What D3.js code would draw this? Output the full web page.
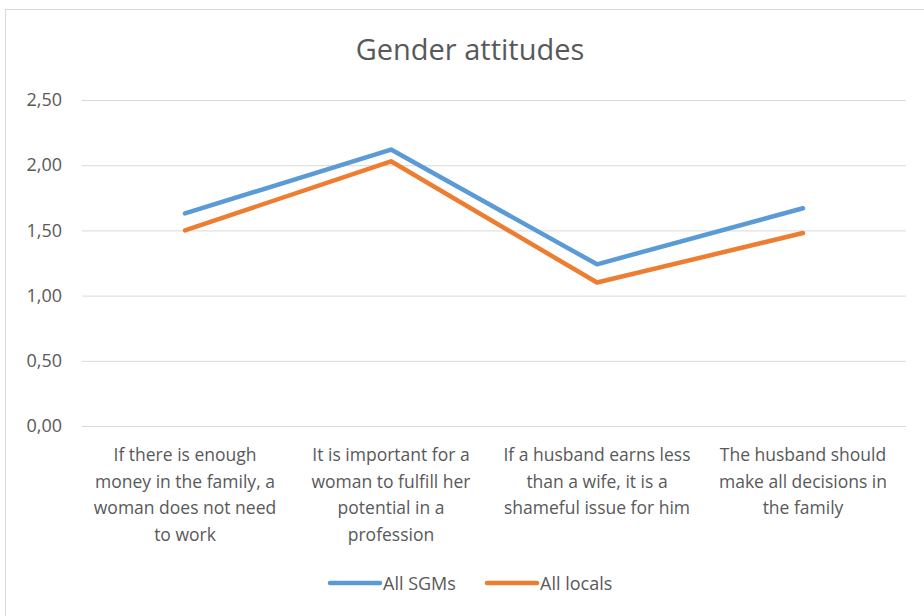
<!DOCTYPE html>
<html>
<head>
<meta charset="utf-8">
<script src="https://cdn.jsdelivr.net/npm/d3@7"></script>
<style>
  body { margin: 0; background: #fff; }
  svg text { font-family: "Open Sans", sans-serif; fill: #595959; }
</style>
</head>
<body>
<svg id="chart" width="924" height="616"></svg>
<script>
const categories = [
  "If there is enough money in the family, a woman does not need to work",
  "It is important for a woman to fulfill her potential in a profession",
  "If a husband earns less than a wife, it is a shameful issue for him",
  "The husband should make all decisions in the family"
];
const sgms = [1.63, 2.12, 1.24, 1.67];
const locals = [1.50, 2.03, 1.10, 1.48];
const yTicks = [0, 0.5, 1, 1.5, 2, 2.5];
const seriesNames = ["All SGMs", "All locals"];
const colours = ["#5b9bd5", "#ed7d31"];

const MARGIN = { top: 100, left: 82, right: 18, bottom: 190 };
const width = 924 - MARGIN.left - MARGIN.right;
const height = 616 - MARGIN.top - MARGIN.bottom;

const svg = d3.select('#chart');

// chart frame (cropped on right and bottom like the source image)
svg.append('rect')
  .attr('x', 5.5).attr('y', 9.5)
  .attr('width', 940).attr('height', 640)
  .attr('fill', '#fff')
  .attr('stroke', '#d9d9d9');

svg.append('text')
  .attr('x', 470).attr('y', 60)
  .attr('text-anchor', 'middle')
  .style('font-size', '29px')
  .text('Gender attitudes');

const x = d3.scaleBand().domain(categories).range([0, width]);
const y = d3.scaleLinear().domain([0, 2.5]).range([height, 0]);

const g = svg.append('g').attr('transform', `translate(${MARGIN.left},${MARGIN.top})`);

// y axis with gridlines
const axisY = d3.axisLeft(y)
  .tickValues(yTicks)
  .tickSize(-width)
  .tickPadding(20)
  .tickFormat(d => d3.format('.2f')(d).replace('.', ','));

g.append('g').attr('class', 'axis--y').call(axisY)
  .call(a => a.select('.domain').remove())
  .call(a => a.selectAll('line').attr('stroke', '#d9d9d9'))
  .call(a => a.selectAll('text').style('font-size', '18px').attr('fill', '#595959'));

// category labels, wrapped
function wrap(text, w) {
  text.each(function () {
    const t = d3.select(this);
    const words = t.text().split(/\s+/).reverse();
    let word, line = [], n = 0;
    const lh = 26.5;
    let tspan = t.text(null).append('tspan').attr('x', 0).attr('y', 0);
    while (word = words.pop()) {
      line.push(word);
      tspan.text(line.join(' '));
      if (tspan.node().getComputedTextLength() > w && line.length > 1) {
        line.pop();
        tspan.text(line.join(' '));
        line = [word];
        tspan = t.append('tspan').attr('x', 0).attr('y', ++n * lh).text(word);
      }
    }
  });
}

g.selectAll('.cat')
  .data(categories)
  .join('text')
  .attr('class', 'cat')
  .attr('transform', d => `translate(${x(d) + x.bandwidth() / 2},${height + 35})`)
  .attr('text-anchor', 'middle')
  .style('font-size', '17.5px')
  .text(d => d)
  .call(wrap, x.bandwidth() - 10);

// lines
const line = d3.line()
  .x((d, i) => x(categories[i]) + x.bandwidth() / 2)
  .y(d => y(d));

[sgms, locals].forEach((s, i) => {
  g.append('path')
    .datum(s)
    .attr('d', line)
    .attr('fill', 'none')
    .attr('stroke', colours[i])
    .attr('stroke-width', 4.5)
    .attr('stroke-linecap', 'round')
    .attr('stroke-linejoin', 'round');
});

// legend
const legendX = [330, 487];
const leg = svg.append('g').attr('transform', 'translate(0,583)');
seriesNames.forEach((name, i) => {
  leg.append('line')
    .attr('x1', legendX[i]).attr('x2', legendX[i] + 50)
    .attr('y1', 0).attr('y2', 0)
    .attr('stroke', colours[i])
    .attr('stroke-width', 4.5)
    .attr('stroke-linecap', 'round');
  leg.append('text')
    .attr('x', legendX[i] + 53).attr('y', 6.5)
    .style('font-size', '18px')
    .text(name);
});
</script>
</body>
</html>
